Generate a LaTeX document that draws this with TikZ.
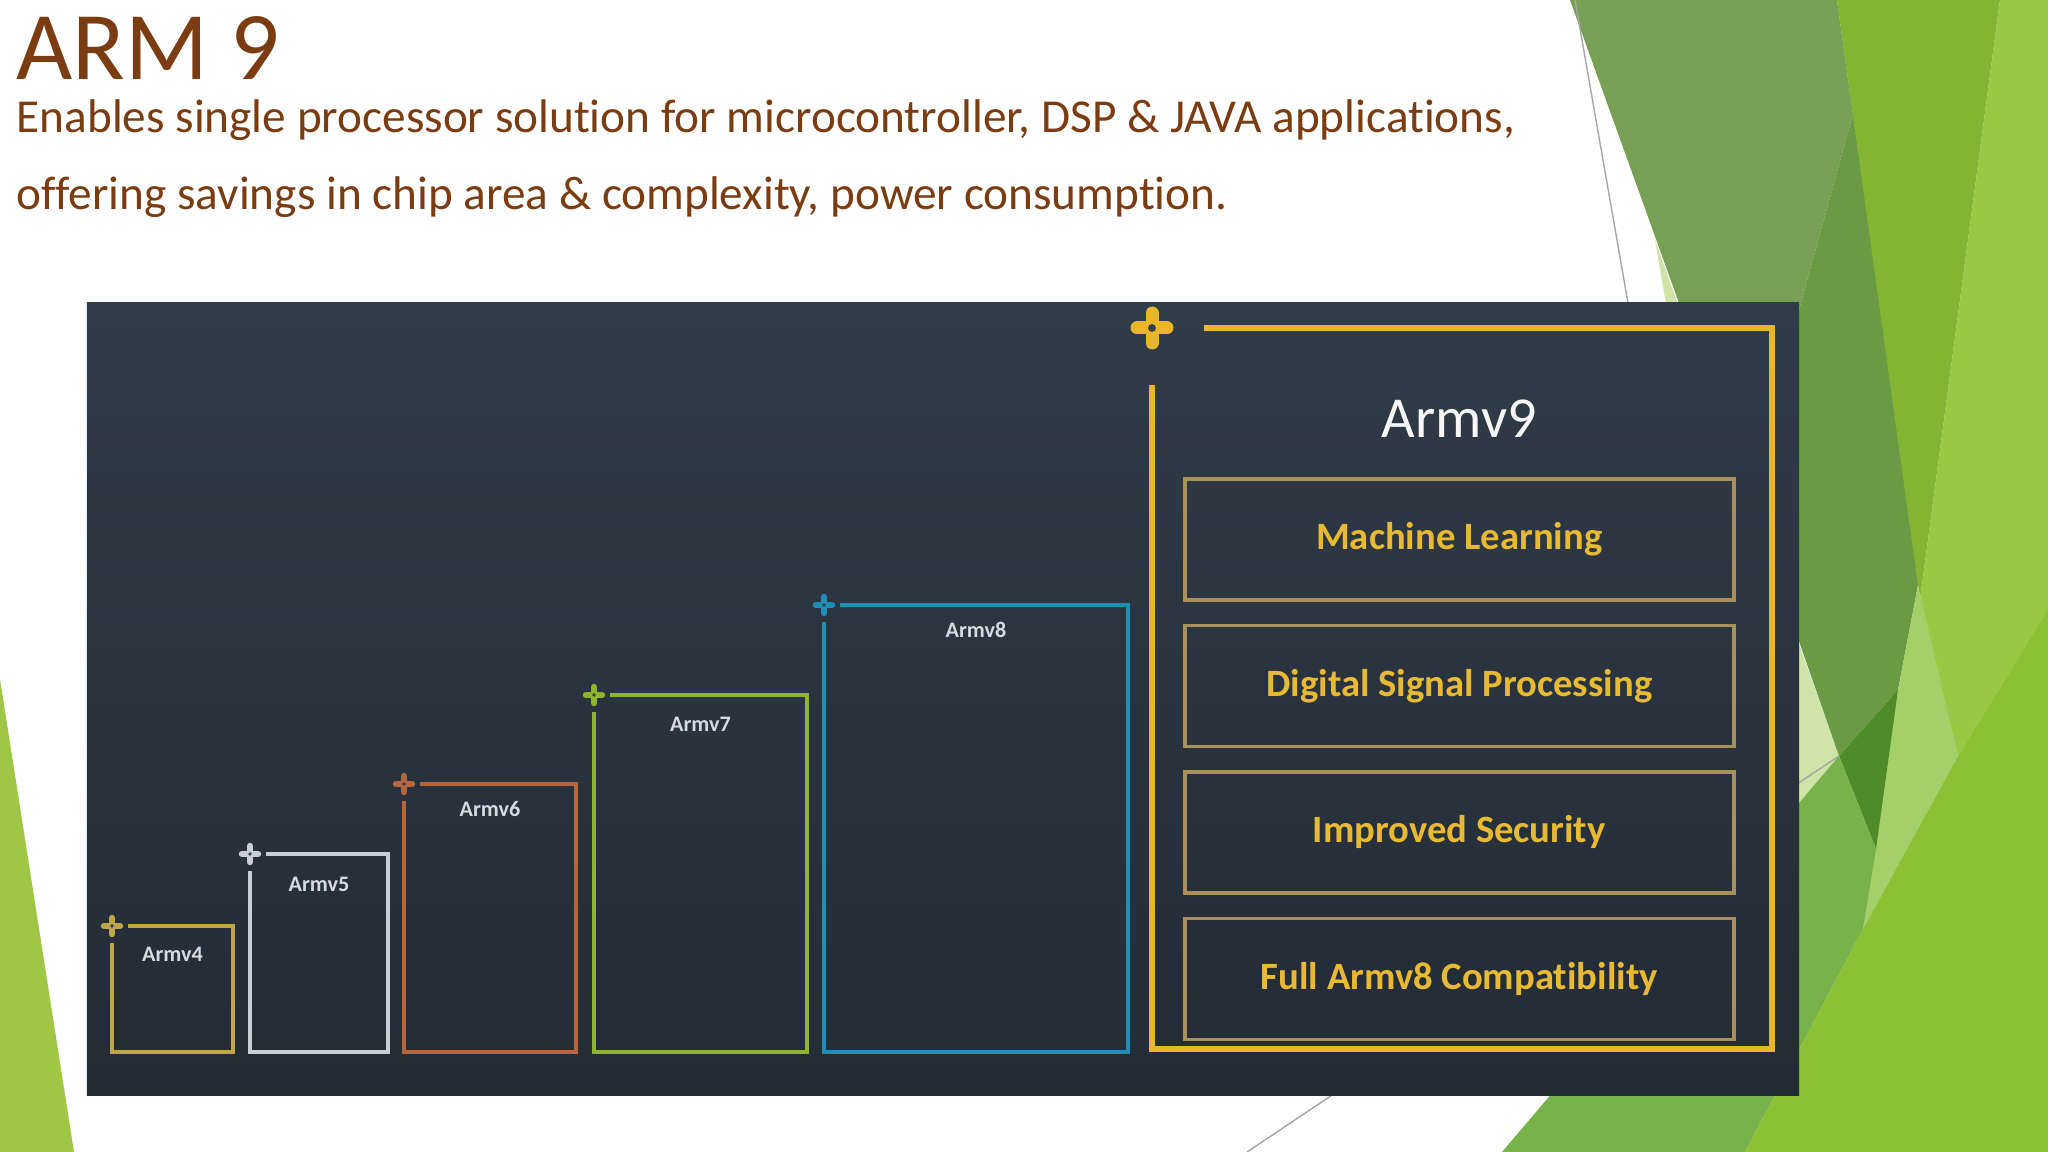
\documentclass[tikz,border=0pt]{standalone}
\usepackage{fontspec}
\setmainfont{Carlito}[Ligatures=NoCommon]
\usepackage{tikz}
\usetikzlibrary{positioning,calc}
\definecolor{ARMbrown}{HTML}{7B3C12}
\definecolor{ARMpanelTop}{HTML}{303C48}
\definecolor{ARMpanelBot}{HTML}{232B35}
\definecolor{ARMvfour}{HTML}{BFA646}
\definecolor{ARMvfive}{HTML}{C9CFD8}
\definecolor{ARMvsix}{HTML}{B8643C}
\definecolor{ARMvseven}{HTML}{8DB52F}
\definecolor{ARMveight}{HTML}{1F8FB8}
\definecolor{ARMvnine}{HTML}{E9B62A}
\definecolor{ARMfeat}{HTML}{A8915A}
\definecolor{ARMfeatText}{HTML}{E8BA34}
\definecolor{ARMlabel}{HTML}{D6DBE2}
\definecolor{FacetMuted}{HTML}{789F56}
\definecolor{FacetShade}{HTML}{6A9A43}
\definecolor{FacetDark}{HTML}{4F8B28}
\definecolor{FacetBright}{HTML}{83B432}
\definecolor{FacetLight}{HTML}{9AC845}
\definecolor{FacetLime}{HTML}{8DC135}
\definecolor{FacetMid}{HTML}{78B24B}
\definecolor{FacetStrip}{HTML}{A4CF6A}
\definecolor{FacetPale}{HTML}{CFE5A7}
\definecolor{FacetLeft}{HTML}{A0C646}
\definecolor{FacetLine}{HTML}{A6A6A6}
\tikzset{
  verbox/.style={anchor=north west, inner sep=0pt, outer sep=0pt},
  verline/.style={line width=1.3pt, line join=miter},
  verlbl/.style={inner sep=0pt, text=ARMlabel, font=\fontsize{6.3}{7}\selectfont\bfseries},
  featbox/.style={draw=ARMfeat, line width=1pt, minimum width=5.49cm, minimum height=1.21cm, inner sep=0pt, text=ARMfeatText, font=\fontsize{11}{13}\selectfont\bfseries},
  headtext/.style={anchor=base west, inner sep=0pt, text=ARMbrown}
}
\newcommand{\verplus}[4]{%
  \draw[#4, line width=#3cm, line cap=round] (#1) ++(-#2,0) -- ++(2*#2,0) (#1) ++(0,-#2) -- ++(0,2*#2);
  \fill[ARMpanelTop] (#1) circle (#3*0.3);}
\begin{document}
\begin{tikzpicture}[x=1cm, y=-1cm]
\useasboundingbox (0,0) rectangle (20.48,11.52);
\fill[white] (0,0) rectangle (20.48,11.52);

\fill[FacetPale] (16.55,2.40) -- (18.39,7.56) -- (17.60,8.50) -- cycle;
\fill[FacetMuted] (15.70,0) -- (18.37,0) -- (18.53,1.14) -- (17.48,4.95) -- cycle;
\fill[FacetShade] (18.53,1.14) -- (19.19,5.80) -- (18.98,6.90) -- (18.39,7.56) -- (17.48,4.95) -- cycle;
\fill[FacetBright] (18.37,0) -- (20.00,0) -- (19.20,6.00) -- cycle;
\fill[FacetLight] (20.00,0) -- (20.48,0) -- (20.48,6.09) -- (19.58,7.56) -- (19.20,6.00) -- cycle;
\fill[FacetStrip] (19.18,5.85) -- (19.58,7.56) -- (18.63,9.29) -- (18.98,6.90) -- cycle;
\fill[FacetDark] (18.39,7.56) -- (18.98,6.90) -- (18.76,8.49) -- cycle;
\fill[FacetMid] (15.02,11.52) -- (18.39,7.56) -- (18.76,8.49) -- (18.63,9.29) -- (17.45,11.52) -- cycle;
\fill[FacetLime] (17.45,11.52) -- (18.63,9.29) -- (19.58,7.56) -- (20.48,6.09) -- (20.48,11.52) -- cycle;
\fill[FacetLeft] (0,6.79) -- (0.74,11.52) -- (0,11.52) -- cycle;
\draw[FacetLine, line width=0.4pt] (15.75,0) -- (16.28,3.03);
\draw[FacetLine, line width=0.4pt] (12.47,11.52) -- (18.39,7.56);

\node[headtext, font=\fontsize{27.6}{30}\selectfont] (title) at (0.16,0.80) {ARM 9};
\node[headtext, font=\fontsize{13.45}{16}\selectfont] (sub1) at (0.16,1.33) {Enables single processor solution for microcontroller, DSP \& JAVA applications,};
\node[headtext, font=\fontsize{13.45}{16}\selectfont] (sub2) at (0.16,2.10) {offering savings in chip area \& complexity, power consumption.};

\shade[top color=ARMpanelTop, bottom color=ARMpanelBot] (0.87,3.03) rectangle (17.99,10.95);

\node[verbox, minimum width=1.21cm, minimum height=1.26cm] (v4) at (1.12,9.26) {};
\node[verbox, minimum width=1.38cm, minimum height=1.98cm] (v5) at (2.50,8.54) {};
\node[verbox, minimum width=1.72cm, minimum height=2.68cm] (v6) at (4.04,7.84) {};
\node[verbox, minimum width=2.13cm, minimum height=3.57cm] (v7) at (5.94,6.95) {};
\node[verbox, minimum width=3.04cm, minimum height=4.47cm] (v8) at (8.24,6.05) {};
\node[verbox, minimum width=6.20cm, minimum height=7.21cm] (v9) at (11.52,3.28) {};

\draw[verline, ARMvfour] ($(v4.north west)+(0.16,0)$) -- (v4.north east) -- (v4.south east) -- (v4.south west) -- ($(v4.north west)+(0,0.17)$);
\draw[verline, ARMvfive] ($(v5.north west)+(0.16,0)$) -- (v5.north east) -- (v5.south east) -- (v5.south west) -- ($(v5.north west)+(0,0.17)$);
\draw[verline, ARMvsix] ($(v6.north west)+(0.16,0)$) -- (v6.north east) -- (v6.south east) -- (v6.south west) -- ($(v6.north west)+(0,0.17)$);
\draw[verline, ARMvseven] ($(v7.north west)+(0.16,0)$) -- (v7.north east) -- (v7.south east) -- (v7.south west) -- ($(v7.north west)+(0,0.17)$);
\draw[verline, ARMveight] ($(v8.north west)+(0.16,0)$) -- (v8.north east) -- (v8.south east) -- (v8.south west) -- ($(v8.north west)+(0,0.17)$);
\draw[verline, ARMvnine, line width=1.7pt] ($(v9.north west)+(0.52,0)$) -- (v9.north east) -- (v9.south east) -- (v9.south west) -- ($(v9.north west)+(0,0.57)$);

\verplus{v4.north west}{0.08}{0.065}{ARMvfour}
\verplus{v5.north west}{0.08}{0.065}{ARMvfive}
\verplus{v6.north west}{0.08}{0.065}{ARMvsix}
\verplus{v7.north west}{0.08}{0.065}{ARMvseven}
\verplus{v8.north west}{0.08}{0.065}{ARMveight}
\verplus{v9.north west}{0.15}{0.13}{ARMvnine}

\node[verlbl, below=0.20cm of v4.north] (l4) {Armv4};
\node[verlbl, below=0.22cm of v5.north] (l5) {Armv5};
\node[verlbl, below=0.17cm of v6.north] (l6) {Armv6};
\node[verlbl, below=0.21cm of v7.north] (l7) {Armv7};
\node[verlbl, below=0.17cm of v8.north] (l8) {Armv8};

\node[featbox, anchor=north west] (ml) at (11.83,4.77) {Machine Learning};
\node[featbox, below=0.22cm of ml] (dsp) {Digital Signal Processing};
\node[featbox, below=0.22cm of dsp] (sec) {Improved Security};
\node[featbox, below=0.22cm of sec] (compat) {Full Armv8 Compatibility};
\node[inner sep=0pt, text=white!94!gray, font=\fontsize{16.5}{19}\selectfont, above=0.39cm of ml] (l9) {Armv9};
\end{tikzpicture}
\end{document}
